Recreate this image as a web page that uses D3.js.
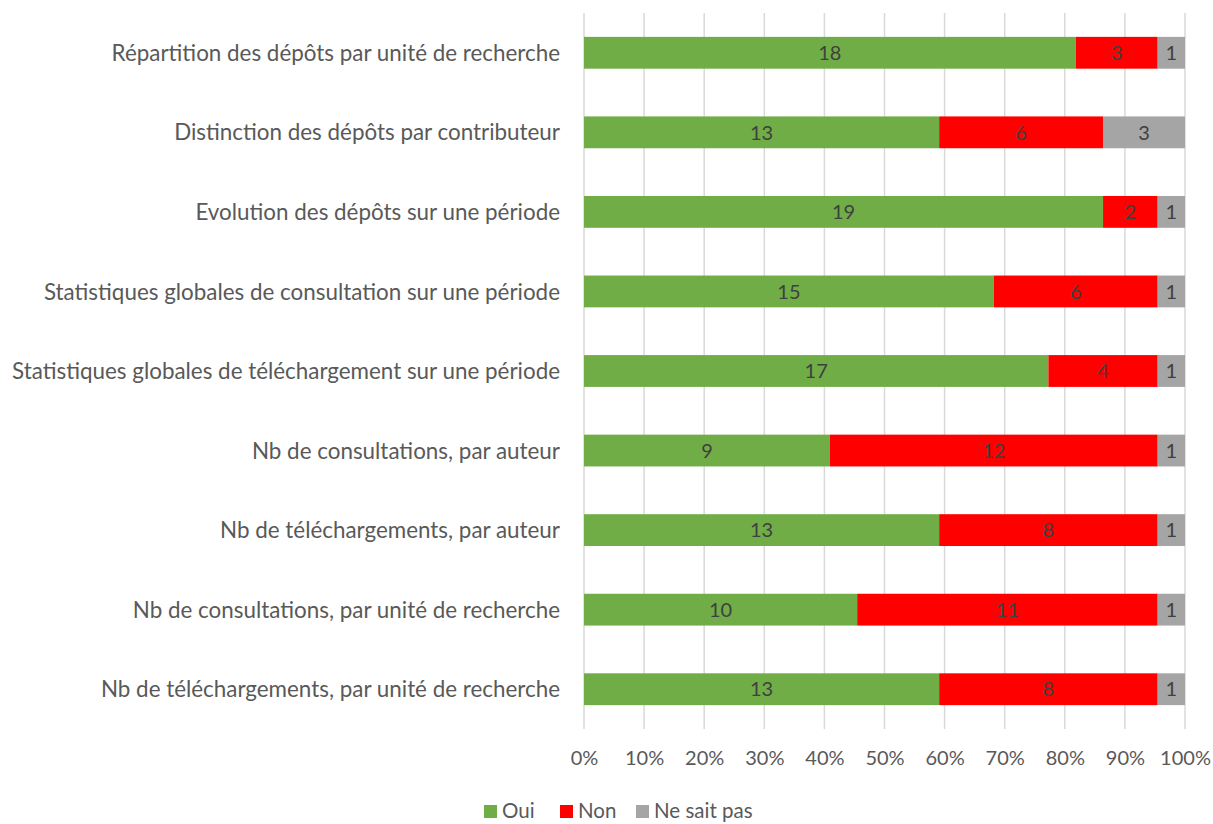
<!DOCTYPE html>
<html>
<head>
<meta charset="utf-8">
<script src="https://cdn.jsdelivr.net/npm/d3@7"></script>
<style>
  body { margin: 0; background: #fff; }
  svg text { font-family: Lato, "Open Sans", sans-serif; }
</style>
</head>
<body>
<div id="chart"></div>
<script>
const categories = [
  "Répartition des dépôts par unité de recherche",
  "Distinction des dépôts par contributeur",
  "Evolution des dépôts sur une période",
  "Statistiques globales de consultation sur une période",
  "Statistiques globales de téléchargement sur une période",
  "Nb de consultations, par auteur",
  "Nb de téléchargements, par auteur",
  "Nb de consultations, par unité de recherche",
  "Nb de téléchargements, par unité de recherche"
];
const oui = [18, 13, 19, 15, 17, 9, 13, 10, 13];
const non = [3, 6, 2, 6, 4, 12, 8, 11, 8];
const nsp = [1, 3, 1, 1, 1, 1, 1, 1, 1];
const seriesNames = ["Oui", "Non", "Ne sait pas"];
const seriesColors = ["#70AD47", "#FF0000", "#A5A5A5"];
const tickValues = [0, 0.1, 0.2, 0.3, 0.4, 0.5, 0.6, 0.7, 0.8, 0.9, 1];

const width = 1213, height = 824;
const margin = { top: 13, right: 28, bottom: 95, left: 584 };

const svg = d3.select("#chart").append("svg")
    .attr("width", width)
    .attr("height", height);

const x = d3.scaleLinear()
    .domain([0, 1])
    .range([margin.left, width - margin.right]);

const y = d3.scaleBand()
    .domain(categories)
    .range([margin.top, height - margin.bottom])
    .paddingInner(0.6)
    .paddingOuter(0.3);

// gridlines
svg.append("g")
    .selectAll("line")
    .data(tickValues)
    .join("line")
    .attr("x1", d => x(d)).attr("x2", d => x(d))
    .attr("y1", margin.top).attr("y2", height - margin.bottom)
    .attr("stroke", "#D9D9D9")
    .attr("stroke-width", 1.5);

// x axis labels
const xAxis = svg.append("g")
    .attr("transform", `translate(0,${height - margin.bottom})`)
    .call(d3.axisBottom(x).tickValues(tickValues).tickFormat(d3.format(".0%")).tickSize(0).tickPadding(22));
xAxis.select(".domain").remove();
xAxis.selectAll("text")
    .attr("fill", "#595959")
    .style("font-size", "20px")
    .style("font-family", "Lato, sans-serif");

// stacked data
const rows = categories.map((c, i) => {
  const vals = [oui[i], non[i], nsp[i]];
  const total = d3.sum(vals);
  let acc = 0;
  return vals.map((v, k) => {
    const seg = { cat: c, key: k, value: v, x0: acc / total, x1: (acc + v) / total };
    acc += v;
    return seg;
  });
});
const segs = rows.flat();

svg.append("g")
    .selectAll("rect")
    .data(segs)
    .join("rect")
    .attr("x", d => x(d.x0))
    .attr("y", d => y(d.cat))
    .attr("width", d => x(d.x1) - x(d.x0))
    .attr("height", y.bandwidth())
    .attr("fill", d => seriesColors[d.key]);

// value labels
svg.append("g")
    .selectAll("text")
    .data(segs)
    .join("text")
    .attr("x", d => (x(d.x0) + x(d.x1)) / 2)
    .attr("y", d => y(d.cat) + y.bandwidth() / 2)
    .attr("dy", "0.36em")
    .attr("text-anchor", "middle")
    .attr("fill", "#404040")
    .style("font-size", "20px")
    .text(d => d.value);

// category labels
svg.append("g")
    .selectAll("text")
    .data(categories)
    .join("text")
    .attr("x", margin.left - 24)
    .attr("y", d => y(d) + y.bandwidth() / 2)
    .attr("dy", "0.36em")
    .attr("text-anchor", "end")
    .attr("fill", "#595959")
    .style("font-size", "22.4px")
    .text(d => d);

// legend
const legendX = [484, 560, 636];
const legend = svg.append("g")
    .selectAll("g")
    .data(seriesNames)
    .join("g")
    .attr("transform", (d, i) => `translate(${legendX[i]},811)`);
legend.append("rect")
    .attr("x", 0).attr("y", -6)
    .attr("width", 13).attr("height", 13)
    .attr("fill", (d, i) => seriesColors[i]);
legend.append("text")
    .attr("x", 18)
    .attr("dy", "0.34em")
    .attr("fill", "#595959")
    .style("font-size", "20.5px")
    .text(d => d);
</script>
</body>
</html>
